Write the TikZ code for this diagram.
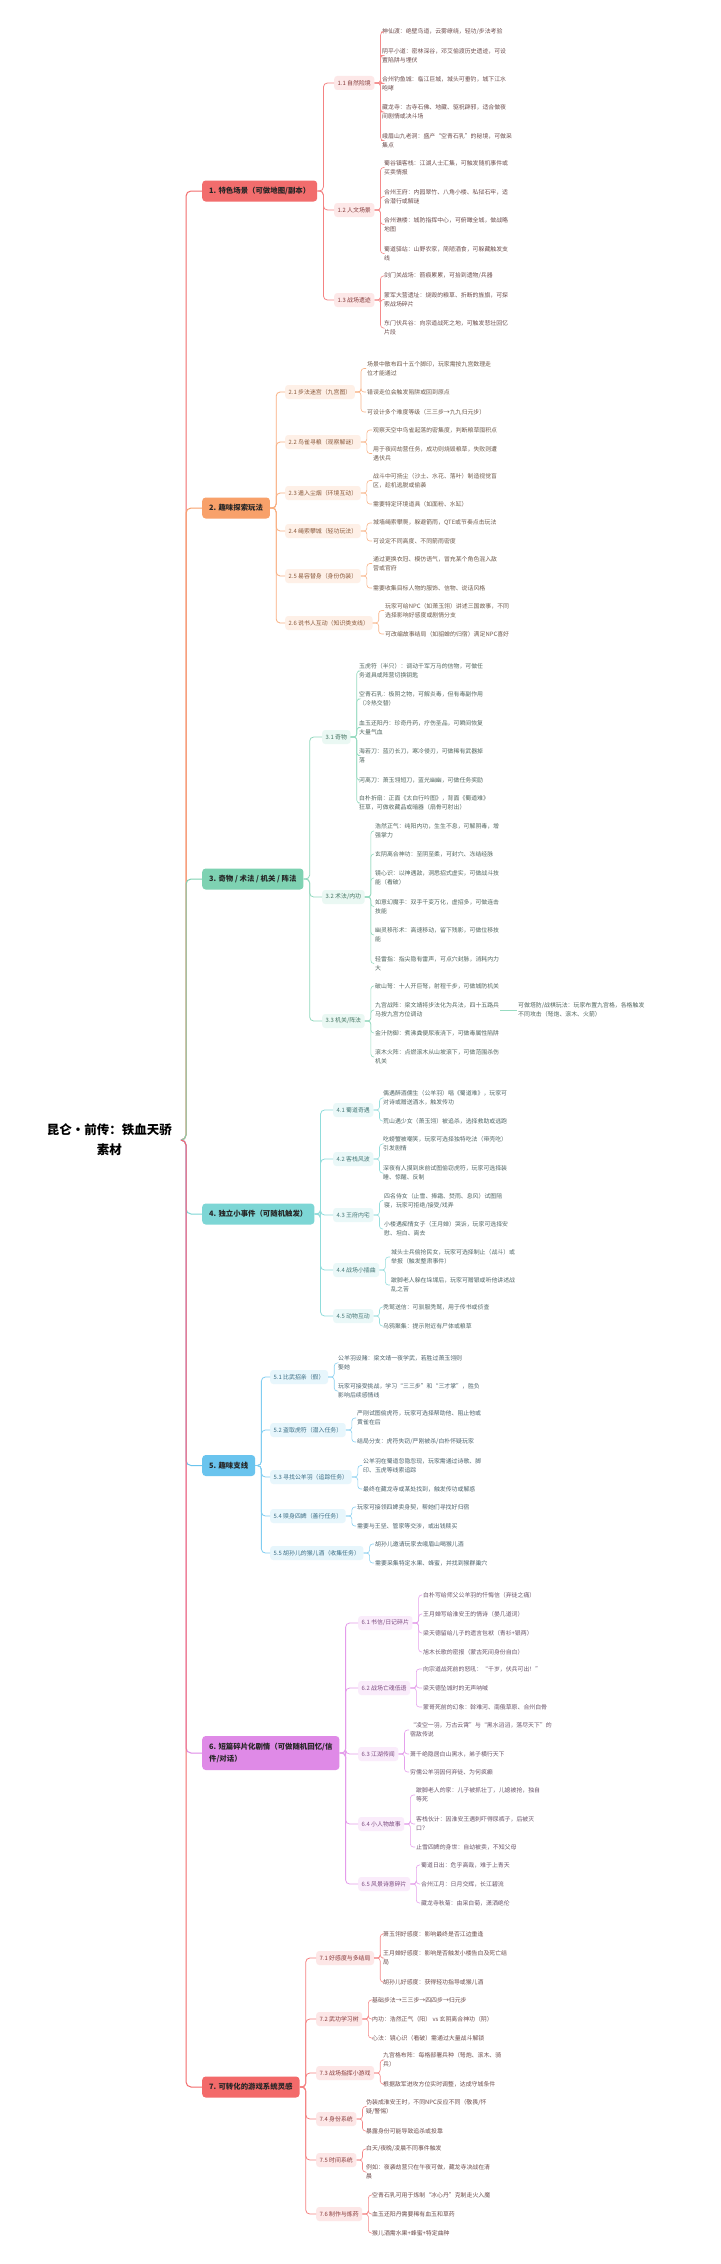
\documentclass[tikz,border=0pt]{standalone}
\usepackage{fontspec}
\setmainfont{Noto Sans CJK SC}
\usetikzlibrary{calc}
\definecolor{c1}{HTML}{F26D6D}
\definecolor{c2}{HTML}{F8A16A}
\definecolor{c3}{HTML}{7ED2B2}
\definecolor{c4}{HTML}{7DD6D5}
\definecolor{c5}{HTML}{6AC4EE}
\definecolor{c6}{HTML}{DF8AE7}
\definecolor{c7}{HTML}{F36A6A}
\tikzset{
 br/.style={anchor=west, rounded corners=3.5pt, inner xsep=7pt, inner ysep=0pt, minimum height=21pt, font=\bfseries\fontsize{7.4}{12}\selectfont, text=black!85, align=left},
 sn/.style={anchor=west, rounded corners=3pt, inner xsep=3.5pt, inner ysep=0pt, minimum height=14pt, font=\fontsize{5.9}{7}\selectfont},
 lf/.style={anchor=west, inner xsep=1pt, inner ysep=1pt, align=left, font=\fontsize{5.9}{9}\selectfont},
 tk/.style={line width=1pt, rounded corners=5pt},
 bk/.style={line width=0.8pt, rounded corners=4pt},
 lk/.style={line width=0.6pt, rounded corners=3pt},
}
\newcommand\mkstyles[1]{\tikzset{
 br#1/.style={br, fill=c#1},
 sn#1/.style={sn, fill=c#1!16, text=c#1!55!black},
 lf#1/.style={lf, text=c#1!30!black!80},
 tk#1/.style={tk, draw=c#1},
 bk#1/.style={bk, draw=c#1!85},
 lk#1/.style={lk, draw=c#1!80},
}}
\mkstyles{1}\mkstyles{2}\mkstyles{3}\mkstyles{4}\mkstyles{5}\mkstyles{6}\mkstyles{7}
% #1 branch, #2 parent, #3 name, #4 x, #5 y, #6 text
\newcommand\mksub[6]{\node[sn#1] (#3) at (#4,#5) {#6};\draw[bk#1] (#2.east) -- ++(6,0) |- (#3.west);}
\newcommand\mkleaf[6]{\node[lf#1] (#3) at (#4,#5) {#6};\draw[lk#1] (#2.east) -- ++(6,0) |- (#3.west);}
\begin{document}
\begin{tikzpicture}[x=1pt,y=-1pt]
\fill[white] (0,0) rectangle (720,2264);
\useasboundingbox (0,0) rectangle (720,2264);

\node[anchor=east, inner xsep=9pt, inner ysep=0pt, align=center, font=\bfseries\fontsize{12.5}{20}\selectfont] (root) at (181,1140) {昆仑·前传：铁血天骄\\素材};
\coordinate (hub) at (186,1140);

\node[br1] (b1) at (202,191) {1. 特色场景（可做地图/副本）};
\node[br2] (b2) at (202,508) {2. 趣味探索玩法};
\node[br3] (b3) at (202,879) {3. 奇物 / 术法 / 机关 / 阵法};
\node[br4] (b4) at (202,1214) {4. 独立小事件（可随机触发）};
\node[br5] (b5) at (202,1465.5) {5. 趣味支线};
\node[br6, minimum height=34pt] (b6) at (202,1753) {6. 短篇碎片化剧情（可做随机回忆/信\\件/对话）};
\node[br7] (b7) at (202,2087) {7. 可转化的游戏系统灵感};
\foreach \i in {1,...,7} {\draw[tk\i] (root.east) -- (hub) |- (b\i.west);}

% ---------- 1
\mksub{1}{b1}{s11}{334}{83}{1.1 自然险境}
\mkleaf{1}{s11}{a111}{381}{32}{神仙渡：绝壁鸟道，云雾缭绕，轻功/步法考验}
\mkleaf{1}{s11}{a112}{381}{55.5}{阴平小道：密林深谷，邓艾偷渡历史遗迹，可设\\置陷阱与埋伏}
\mkleaf{1}{s11}{a113}{381}{83.5}{合州钓鱼城：临江巨城，城头可垂钓，城下江水\\咆哮}
\mkleaf{1}{s11}{a114}{381}{112}{藏龙寺：古寺石佛、地藏、驱祝辟邪，适合做夜\\间剧情或决斗场}
\mkleaf{1}{s11}{a115}{381}{140.5}{峨眉山九老洞：盛产“空青石乳”的秘境，可做采\\集点}
\mksub{1}{b1}{s12}{334}{210}{1.2 人文场景}
\mkleaf{1}{s12}{a121}{383}{167.5}{蜀谷镇客栈：江湖人士汇集，可触发随机事件或\\买卖情报}
\mkleaf{1}{s12}{a122}{383}{196.5}{合州王府：内园翠竹、八角小楼、私狱石牢，适\\合潜行或解谜}
\mkleaf{1}{s12}{a123}{383}{224.5}{合州谯楼：城防指挥中心，可俯瞰全城，做战略\\地图}
\mkleaf{1}{s12}{a124}{383}{253.5}{蜀道驿站：山野农家，简陋酒食，可躲藏触发支\\线}
\mksub{1}{b1}{s13}{334}{300}{1.3 战场遗迹}
\mkleaf{1}{s13}{a131}{383}{276}{剑门关战场：箭痕累累，可拾到遗物/兵器}
\mkleaf{1}{s13}{a132}{383}{299.5}{蒙军大营遗址：烧毁的粮草、折断的旌旗，可探\\索战场碎片}
\mkleaf{1}{s13}{a133}{383}{328}{东门伏兵谷：向宗道战死之地，可触发悲壮回忆\\片段}

% ---------- 2
\mksub{2}{b2}{s21}{285}{392}{2.1 步法迷宫（九宫图）}
\mkleaf{2}{s21}{a211}{366}{368.5}{场景中散布四十五个脚印，玩家需按九宫数理走\\位才能通过}
\mkleaf{2}{s21}{a212}{366}{392}{错误走位会触发陷阱或回到原点}
\mkleaf{2}{s21}{a213}{366}{412}{可设计多个难度等级（三三步→九九归元步）}
\mksub{2}{b2}{s22}{285}{442}{2.2 鸟雀寻粮（观察解谜）}
\mkleaf{2}{s22}{a221}{372}{430}{观察天空中鸟雀起落的密集度，判断粮草囤积点}
\mkleaf{2}{s22}{a222}{372}{453.5}{用于夜间劫营任务，成功则烧毁粮草，失败则遭\\遇伏兵}
\mksub{2}{b2}{s23}{285}{493}{2.3 遁入尘烟（环境互动）}
\mkleaf{2}{s23}{a231}{372}{480.5}{战斗中可扬尘（沙土、水花、落叶）制造视觉盲\\区，趁机逃脱或偷袭}
\mkleaf{2}{s23}{a232}{372}{504}{需要特定环境道具（如面粉、水缸）}
\mksub{2}{b2}{s24}{285}{531}{2.4 绳索攀城（轻功玩法）}
\mkleaf{2}{s24}{a241}{372}{523}{城墙绳索攀爬，躲避箭雨，QTE或节奏点击玩法}
\mkleaf{2}{s24}{a242}{372}{541}{可设定不同高度、不同箭雨密度}
\mksub{2}{b2}{s25}{285}{576}{2.5 易容替身（身份伪装）}
\mkleaf{2}{s25}{a251}{372}{563.5}{通过更换衣冠、模仿语气，冒充某个角色混入敌\\营或官府}
\mkleaf{2}{s25}{a252}{372}{588}{需要收集目标人物的服饰、信物、说话风格}
\mksub{2}{b2}{s26}{285}{623}{2.6 说书人互动（知识类支线）}
\mkleaf{2}{s26}{a261}{384}{610.5}{玩家可给NPC（如萧玉翎）讲述三国故事，不同\\选择影响好感度或剧情分支}
\mkleaf{2}{s26}{a262}{384}{634}{可改编故事结局（如貂蝉的归宿）满足NPC喜好}

% ---------- 3
\mksub{3}{b3}{s31}{322}{737}{3.1 奇物}
\mkleaf{3}{s31}{a311}{358}{671}{玉虎符（半只）：调动千军万马的信物，可做任\\务道具或阵营切换钥匙}
\mkleaf{3}{s31}{a312}{358}{699}{空青石乳：极阴之物，可解炎毒，但有毒副作用\\（冷热交替）}
\mkleaf{3}{s31}{a313}{358}{727.5}{血玉还阳丹：珍奇丹药，疗伤圣品，可瞬间恢复\\大量气血}
\mkleaf{3}{s31}{a314}{358}{755.5}{海若刀：蓝刃长刀，寒冷侵刃，可做稀有武器掉\\落}
\mkleaf{3}{s31}{a315}{358}{780}{河离刀：萧玉翎短刀，蓝光幽幽，可做任务奖励}
\mkleaf{3}{s31}{a316}{358}{803}{白朴折扇：正面《太白行吟图》，背面《蜀道难》\\狂草，可做收藏品或暗器（扇骨可射出）}
\mksub{3}{b3}{s32}{322}{897}{3.2 术法/内功}
\mkleaf{3}{s32}{a321}{374}{831}{浩然正气：纯阳内功，生生不息，可解阴毒，增\\强掌力}
\mkleaf{3}{s32}{a322}{374}{854}{玄阴离合神功：至阴至柔，可封穴、冻结经脉}
\mkleaf{3}{s32}{a323}{374}{878}{镜心识：以神遇敌，洞悉招式虚实，可做战斗技\\能（看破）}
\mkleaf{3}{s32}{a324}{374}{906.5}{如意幻魔手：双手千变万化，虚招多，可做连击\\技能}
\mkleaf{3}{s32}{a325}{374}{935}{幽灵移形术：高速移动，留下残影，可做位移技\\能}
\mkleaf{3}{s32}{a326}{374}{963.5}{轻雷指：指尖隐有雷声，可点穴封脉，消耗内力\\大}
\mksub{3}{b3}{s33}{322}{1021}{3.3 机关/阵法}
\mkleaf{3}{s33}{a331}{374}{986}{破山弩：十人开巨弩，射程千步，可做城防机关}
\mkleaf{3}{s33}{a332}{374}{1010}{九宫战阵：梁文靖将步法化为兵法，四十五路兵\\马按九宫方位调动}
\mkleaf{3}{s33}{a333}{374}{1033}{金汁防御：煮沸粪便尿液浇下，可做毒属性陷阱}
\mkleaf{3}{s33}{a334}{374}{1057}{滚木火阵：点燃滚木从山坡滚下，可做范围杀伤\\机关}
\node[lf3] (a335) at (517,1010) {可做塔防/战棋玩法：玩家布置九宫格，各格触发\\不同攻击（弩炮、滚木、火箭）};
\draw[lk3] (a332.east) -- (a335.west);

% ---------- 4
\mksub{4}{b4}{s41}{333}{1110}{4.1 蜀道奇遇}
\mkleaf{4}{s41}{a411}{382}{1098}{偶遇醉酒儒生（公羊羽）唱《蜀道难》，玩家可\\对诗或赠送酒水，触发传功}
\mkleaf{4}{s41}{a412}{382}{1121}{荒山遇少女（萧玉翎）被追杀，选择救助或逃跑}
\mksub{4}{b4}{s42}{333}{1159}{4.2 客栈风波}
\mkleaf{4}{s42}{a421}{382}{1144}{吃螃蟹被嘲笑，玩家可选择独特吃法（带壳吃）\\引发剧情}
\mkleaf{4}{s42}{a422}{382}{1173}{深夜有人摸到床前试图偷窃虎符，玩家可选择装\\睡、惊醒、反制}
\mksub{4}{b4}{s43}{333}{1215}{4.3 王府内宅}
\mkleaf{4}{s43}{a431}{383}{1200.5}{四名侍女（止雪、捧霜、焚雨、息风）试图陪\\寝，玩家可拒绝/接受/戏弄}
\mkleaf{4}{s43}{a432}{383}{1229}{小楼遇痴情女子（王月婵）哭诉，玩家可选择安\\慰、坦白、离去}
\mksub{4}{b4}{s44}{333}{1270}{4.4 战场小插曲}
\mkleaf{4}{s44}{a441}{390}{1257}{城头士兵偷抢民女，玩家可选择制止（战斗）或\\举报（触发整肃事件）}
\mkleaf{4}{s44}{a442}{390}{1285}{跛脚老人躲在垛堞后，玩家可赠银或听他讲述战\\乱之苦}
\mksub{4}{b4}{s45}{333}{1316}{4.5 动物互动}
\mkleaf{4}{s45}{a451}{382}{1307}{秃鹫送信：可驯服秃鹫，用于传书或侦查}
\mkleaf{4}{s45}{a452}{382}{1326}{乌鸦聚集：提示附近有尸体或粮草}

% ---------- 5
\mksub{5}{b5}{s51}{270}{1377}{5.1 比武招亲（假）}
\mkleaf{5}{s51}{a511}{337}{1363}{公羊羽设赌：梁文靖一夜学武，若胜过萧玉翎则\\娶她}
\mkleaf{5}{s51}{a512}{337}{1391}{玩家可接受挑战，学习“三三步”和“三才掌”，胜负\\影响后续感情线}
\mksub{5}{b5}{s52}{270}{1430}{5.2 盗取虎符（潜入任务）}
\mkleaf{5}{s52}{a521}{356}{1418}{严刚试图偷虎符，玩家可选择帮助他、阻止他或\\黄雀在后}
\mkleaf{5}{s52}{a522}{356}{1442}{结局分支：虎符失窃/严刚被杀/白朴怀疑玩家}
\mksub{5}{b5}{s53}{270}{1477}{5.3 寻找公羊羽（追踪任务）}
\mkleaf{5}{s53}{a531}{362}{1465.5}{公羊羽在蜀道忽隐忽现，玩家需通过诗歌、脚\\印、玉虎等线索追踪}
\mkleaf{5}{s53}{a532}{362}{1489}{最终在藏龙寺或某处找到，触发传功或解惑}
\mksub{5}{b5}{s54}{270}{1516}{5.4 赎身四婢（善行任务）}
\mkleaf{5}{s54}{a541}{356}{1507}{玩家可接领四婢卖身契，帮她们寻找好归宿}
\mkleaf{5}{s54}{a542}{356}{1526}{需要与王坚、管家等交涉，或出钱赎买}
\mksub{5}{b5}{s55}{270}{1553}{5.5 胡孙儿的猴儿酒（收集任务）}
\mkleaf{5}{s55}{a551}{374}{1544}{胡孙儿邀请玩家去峨眉山喝猴儿酒}
\mkleaf{5}{s55}{a552}{374}{1563}{需要采集特定水果、蜂蜜，并找到猴群巢穴}

% ---------- 6
\mksub{6}{b6}{s61}{358}{1623}{6.1 书信/日记碎片}
\mkleaf{6}{s61}{a611}{422}{1595}{白朴写给师父公羊羽的忏悔信（弃徒之痛）}
\mkleaf{6}{s61}{a612}{422}{1614}{王月婵写给淮安王的情诗（晏几道词）}
\mkleaf{6}{s61}{a613}{422}{1633}{梁天德留给儿子的遗言包袱（青衫+银两）}
\mkleaf{6}{s61}{a614}{422}{1652}{旭木长歌的密报（蒙古死间身份自白）}
\mksub{6}{b6}{s62}{358}{1688}{6.2 战场亡魂低语}
\mkleaf{6}{s62}{a621}{422}{1669}{向宗道战死前的怒吼：“千岁，伏兵可出！”}
\mkleaf{6}{s62}{a622}{422}{1688}{梁天德坠城时的无声呐喊}
\mkleaf{6}{s62}{a623}{422}{1707}{蒙哥死前的幻象：斡难河、南俄草原、合州白骨}
\mksub{6}{b6}{s63}{358}{1754}{6.3 江湖传闻}
\mkleaf{6}{s63}{a631}{409}{1730}{“凌空一羽，万古云霄”与“黑水滔滔，落尽天下”的\\宿敌传说}
\mkleaf{6}{s63}{a632}{409}{1754}{萧千绝隐居白山黑水，弟子横行天下}
\mkleaf{6}{s63}{a633}{409}{1772}{穷儒公羊羽因何弃徒、为何疯癫}
\mksub{6}{b6}{s64}{358}{1824}{6.4 小人物故事}
\mkleaf{6}{s64}{a641}{415}{1795}{跛脚老人的家：儿子被抓壮丁，儿媳被抢，独自\\等死}
\mkleaf{6}{s64}{a642}{415}{1824}{客栈伙计：因淮安王遇刺吓得尿裤子，后被灭\\口？}
\mkleaf{6}{s64}{a643}{415}{1847}{止雪四婢的身世：自幼被卖，不知父母}
\mksub{6}{b6}{s65}{358}{1884}{6.5 风景诗意碎片}
\mkleaf{6}{s65}{a651}{420}{1865}{蜀道日出：危乎高哉，难于上青天}
\mkleaf{6}{s65}{a652}{420}{1884}{合州江月：日月交辉，长江碧流}
\mkleaf{6}{s65}{a653}{420}{1903}{藏龙寺秋菊：由采白菊，潇洒绝伦}

% ---------- 7
\mksub{7}{b7}{s71}{316}{1958}{7.1 好感度与多结局}
\mkleaf{7}{s71}{a711}{382}{1934}{萧玉翎好感度：影响最终是否江边重逢}
\mkleaf{7}{s71}{a712}{382}{1958}{王月婵好感度：影响是否触发小楼告白及死亡结\\局}
\mkleaf{7}{s71}{a713}{382}{1982}{胡孙儿好感度：获得轻功指导或猴儿酒}
\mksub{7}{b7}{s72}{316}{2019}{7.2 武功学习树}
\mkleaf{7}{s72}{a721}{371}{2000}{基础步法→三三步→四四步→归元步}
\mkleaf{7}{s72}{a722}{371}{2019}{内功：浩然正气（阳） vs 玄阴离合神功（阴）}
\mkleaf{7}{s72}{a723}{371}{2038}{心法：镜心识（看破）需通过大量战斗解锁}
\mksub{7}{b7}{s73}{316}{2073}{7.3 战场指挥小游戏}
\mkleaf{7}{s73}{a731}{382}{2060}{九宫格布阵：每格部署兵种（弩炮、滚木、骑\\兵）}
\mkleaf{7}{s73}{a732}{382}{2084}{根据敌军进攻方位实时调整，达成守城条件}
\mksub{7}{b7}{s74}{316}{2119}{7.4 身份系统}
\mkleaf{7}{s74}{a741}{365}{2106.5}{伪装成淮安王时，不同NPC反应不同（敬畏/怀\\疑/警惕）}
\mkleaf{7}{s74}{a742}{365}{2131}{暴露身份可能导致追杀或投靠}
\mksub{7}{b7}{s75}{316}{2160}{7.5 时间系统}
\mkleaf{7}{s75}{a751}{365}{2149}{白天/夜晚/凌晨不同事件触发}
\mkleaf{7}{s75}{a752}{365}{2172}{例如：夜袭劫营只在午夜可做，藏龙寺决战在清\\晨}
\mksub{7}{b7}{s76}{316}{2214}{7.6 制作与炼药}
\mkleaf{7}{s76}{a761}{371}{2195}{空青石乳可用于炼制“冰心丹”克制走火入魔}
\mkleaf{7}{s76}{a762}{371}{2214}{血玉还阳丹需要稀有血玉和草药}
\mkleaf{7}{s76}{a763}{371}{2233}{猴儿酒需水果+蜂蜜+特定曲种}
\end{tikzpicture}
\end{document}
